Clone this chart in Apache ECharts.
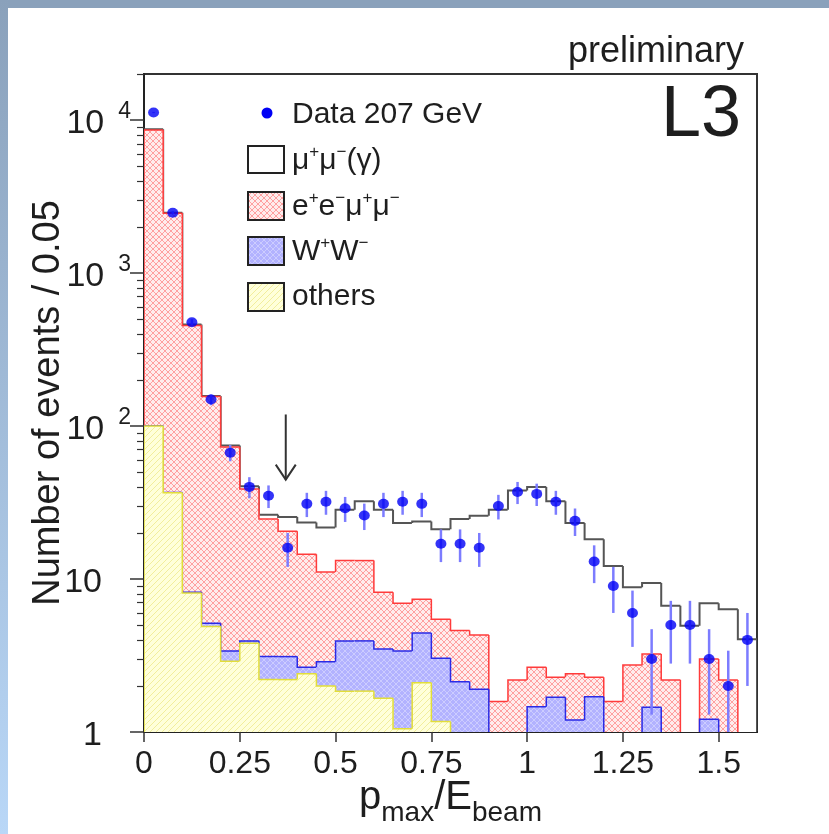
<!DOCTYPE html>
<html><head><meta charset="utf-8">
<script src="https://cdn.jsdelivr.net/npm/echarts@6/dist/echarts.min.js"></script>
<style>html,body{margin:0;padding:0;background:#fff}#c{width:829px;height:834px}</style>
</head><body><div id="c"></div>
<script>
// ---------- data ----------
const binLow = [0,0.05,0.1,0.15,0.2,0.25,0.3,0.35,0.4,0.45,0.5,0.55,0.6,0.65,0.7,0.75,0.8,0.85,0.9,0.95,1,1.05,1.1,1.15,1.2,1.25,1.3,1.35,1.4,1.45,1.5,1.55];
const binWidth = 0.05;
const dataCounts = [11200,2480,477,149,67,40,35,16,31,32,29,26,31,32,31,17,17,16,30,37,36,32,24,13,9,6,3,5,5,3,2,4];
const dataErr = [106,50,22,12.2,8.2,6.3,5.9,4,5.6,5.7,5.4,5.1,5.6,5.7,5.6,4.1,4.1,4,5.5,6.1,6,5.7,4.9,3.6,3,2.4,1.7,2.2,2.2,1.7,1.4,2];
const others = [100,36.6,8.1,4.9,2.9,3.8,2.2,2.2,2.4,2.0,1.85,1.85,1.66,1.05,2.1,1.17,0,0,0,0,0,0,0,0,0,0,0,0,0,0,0,0];
const ww = [0.5,0.2,0.1,0.24,0.49,0.14,0.91,0.91,0.25,0.88,2.09,2.09,1.83,2.34,2.33,1.87,2.13,1.9,0,0,1.46,1.69,1.2,1.7,0,0,1.45,0,0,1.21,0,0];
const eemumu = [8510,2418,446,150.9,69.6,34.8,21.6,17.4,11.85,8.22,9.26,9.26,4.71,3.56,2.95,2.42,2.47,2.41,1.58,2.19,1.19,0.59,1.2,0.58,1.58,2.74,1.79,2.19,0,1.79,2.19,0];
const mumu = [90,25,6,1,1.5,1.6,1.6,4.9,8.9,10.6,15.2,19.0,20.2,16.25,16.4,15.7,20.1,21.6,26.8,35.7,37.35,29.9,20.8,15.9,10.6,6.1,6.16,4.49,4.94,3.95,4.16,4.04];
const xTicks = [0,0.25,0.5,0.75,1,1.25,1.5];
const yMajor = [1,10,100,1000,10000];
const minorMult = [2,3,4,5,6,7,8,9];
const arrowAt = {x:0.37, from:119, to:44.6};
const yMin = 1, yMax = 20000;

// ---------- helpers ----------
const FONT = "'Liberation Sans', Arial, Helvetica, sans-serif";
const TXT = '#1e1e1e';
const yMinor = [];
yMajor.forEach(d => minorMult.forEach(m => { if (m*d <= yMax) yMinor.push(m*d); }));

function cumulate(){
  const out = [];
  const arrs = arguments;
  for (let i = 0; i < binLow.length; i++) {
    let s = 0; for (let k = 0; k < arrs.length; k++) s += arrs[k][i];
    out.push(s);
  }
  return out;
}
const cumY = cumulate(others);
const cumB = cumulate(others, ww);
const cumR = cumulate(others, ww, eemumu);
const cumT = cumulate(others, ww, eemumu, mumu);

function makePattern(bg, fg, kind){
  const c = document.createElement('canvas'); c.width = 6; c.height = 6;
  const g = c.getContext('2d');
  g.fillStyle = bg; g.fillRect(0,0,6,6);
  g.strokeStyle = fg; g.lineWidth = 1;
  g.beginPath();
  if (kind === 'cross') { g.moveTo(0,0); g.lineTo(6,6); g.moveTo(6,0); g.lineTo(0,6); }
  else { g.moveTo(0,6); g.lineTo(6,0); g.moveTo(-1,1); g.lineTo(1,-1); g.moveTo(5,7); g.lineTo(7,5); }
  g.stroke();
  return {image: c, repeat: 'repeat'};
}
const patRed = makePattern('#ffecec', '#ffa0a0', 'cross');
const patBlue = makePattern('#b2b2ff', '#ccccff', 'cross');
const patYel = makePattern('#ffffda', '#f2ee9c', 'diag');

function histSeries(name, cum, fill, stroke, lw){
  const n = cum.length;
  const data = cum.map((v, i) => [binLow[i], binLow[i] + binWidth, v, i > 0 ? cum[i-1] : 0, i === n-1 ? 1 : 0]);
  return {
    type: 'custom', name, silent: true, clip: true, z: 2,
    data, encode: {x: [0,1], y: 2},
    renderItem(params, api){
      const x0 = api.value(0), x1 = api.value(1);
      const v = Math.max(api.value(2), yMin), pv = Math.max(api.value(3), yMin), last = api.value(4);
      const pTL = api.coord([x0, v]), pTR = api.coord([x1, v]);
      const pB = api.coord([x0, yMin]), pBR = api.coord([x1, yMin]);
      const pPrev = api.coord([x0, pv]);
      const children = [];
      if (v > yMin) {
        children.push({type: 'rect', shape: {x: pTL[0] - 0.3, y: pTL[1], width: pTR[0] - pTL[0] + 0.6, height: pB[1] - pTL[1]}, style: {fill: fill, stroke: null}});
        const pts = [pPrev, pTL, pTR];
        if (last) pts.push(pBR);
        children.push({type: 'polyline', shape: {points: pts}, style: {fill: null, stroke: stroke, lineWidth: lw}});
      } else if (pv > yMin) {
        children.push({type: 'polyline', shape: {points: [pPrev, pB]}, style: {fill: null, stroke: stroke, lineWidth: lw}});
      }
      return {type: 'group', children};
    }
  };
}

const centers = binLow.map(b => b + binWidth/2);

const chart = echarts.init(document.getElementById('c'), null, {renderer: 'canvas'});
const option = {
  animation: false,
  backgroundColor: '#ffffff',
  grid: {left: 144, right: 72, top: 74, bottom: 102, outerBoundsMode: 'none', containLabel: false,
    show: true, borderColor: '#333333', borderWidth: 2, backgroundColor: 'transparent'},
  xAxis: {
    type: 'value', min: 0, max: 1.6,
    axisLine: {show: true, onZero: false, lineStyle: {color: '#222', width: 2}},
    axisTick: {show: true, customValues: xTicks, length: 10, lineStyle: {color: '#333', width: 1.5}},
    axisLabel: {customValues: xTicks, fontSize: 32, fontFamily: FONT, color: TXT, margin: 16},
    splitLine: {show: false},
    name: '{b|p}{s|max}{b|/E}{s|beam}', nameLocation: 'middle', nameGap: 44, nameMoveOverlap: false,
    nameTextStyle: {rich: {
      b: {fontSize: 40, fontFamily: FONT, color: TXT, lineHeight: 44},
      s: {fontSize: 28, fontFamily: FONT, color: TXT, lineHeight: 28, padding: [30,0,0,0]}
    }}
  },
  yAxis: [{
    type: 'log', logBase: 10, min: yMin, max: yMax, position: 'left', offset: 0,
    axisLine: {show: true, lineStyle: {color: '#222', width: 2}},
    axisTick: {show: true, customValues: yMajor, length: 14, lineStyle: {color: '#333', width: 1.5}},
    axisLabel: {
      customValues: yMajor, margin: 13,
      formatter: function(v){
        const e = Math.round(Math.log10(v));
        if (e === 0) return '{b|1}{e|}';
        if (e === 1) return '{b|10}{e|}';
        return '{b|10}{s|' + e + '}';
      },
      rich: {
        b: {fontSize: 34, fontFamily: FONT, color: TXT, lineHeight: 40, padding: [8,0,0,0]},
        s: {fontSize: 23, fontFamily: FONT, color: TXT, lineHeight: 24, verticalAlign: 'top', padding: [0,0,0,14]},
        e: {width: 29}
      }
    },
    splitLine: {show: false},
    name: 'Number of events / 0.05', nameLocation: 'middle', nameGap: 76, nameMoveOverlap: false,
    nameTextStyle: {fontSize: 38, fontFamily: FONT, color: TXT}
  }, {
    type: 'log', logBase: 10, min: yMin, max: yMax, position: 'left', offset: 0,
    axisLine: {show: false},
    axisTick: {show: true, customValues: yMinor, length: 7, lineStyle: {color: '#333', width: 1.2}},
    axisLabel: {show: false},
    splitLine: {show: false}
  }],
  series: [
    histSeries('mumu', cumT, '#ffffff', '#555555', 2),
    histSeries('eemumu', cumR, patRed, '#ff3b3b', 1.5),
    histSeries('ww', cumB, patBlue, '#2a2ae6', 1.5),
    histSeries('others', cumY, patYel, '#e2de3a', 1.5),
    {
      type: 'custom', name: 'errors', silent: true, clip: true, z: 3,
      data: centers.map((c, i) => [c, Math.max(dataCounts[i] - dataErr[i], 0.5), dataCounts[i] + dataErr[i]]),
      encode: {x: 0, y: 2},
      renderItem(params, api){
        const lo = api.coord([api.value(0), api.value(1)]);
        const hi = api.coord([api.value(0), api.value(2)]);
        return {type: 'line', shape: {x1: lo[0], y1: lo[1], x2: hi[0], y2: hi[1]}, style: {stroke: '#7c7cff', lineWidth: 2.5}};
      }
    },
    {
      type: 'scatter', name: 'Data 207 GeV', silent: true, z: 4,
      data: centers.map((c, i) => [c, dataCounts[i]]),
      symbol: 'circle', symbolSize: [11, 10],
      itemStyle: {color: '#0000f5'}
    },
    {
      type: 'custom', name: 'arrow', silent: true, z: 3,
      data: [[arrowAt.x, arrowAt.from, arrowAt.to]],
      encode: {x: 0, y: [1,2]},
      renderItem(params, api){
        const a = api.coord([api.value(0), api.value(1)]);
        const b = api.coord([api.value(0), api.value(2)]);
        return {type: 'group', children: [
          {type: 'line', shape: {x1: a[0], y1: a[1], x2: b[0], y2: b[1]}, style: {stroke: '#333', lineWidth: 2}},
          {type: 'polyline', shape: {points: [[b[0]-10, b[1]-15], b, [b[0]+10, b[1]-15]]}, style: {stroke: '#333', lineWidth: 2, fill: null}}
        ]};
      }
    }
  ],
  graphic: {elements: [
    {type: 'rect', z: -10, shape: {x: 0, y: 0, width: 829, height: 8}, style: {fill: '#8aa1bb'}},
    {type: 'rect', z: -10, shape: {x: 0, y: 0, width: 8, height: 834},
      style: {fill: new echarts.graphic.LinearGradient(0, 0, 0, 1, [{offset: 0, color: '#8aa1bb'}, {offset: 1, color: '#b9d7f7'}])}},
    {type: 'text', style: {text: 'preliminary', x: 744, y: 52, align: 'right', verticalAlign: 'middle', font: '36px ' + FONT, fill: TXT}},
    {type: 'text', style: {text: 'L3', x: 741, y: 116, align: 'right', verticalAlign: 'middle', font: '72px ' + FONT, fill: TXT}},
    {type: 'circle', shape: {cx: 267, cy: 113, r: 5.5}, style: {fill: '#0000f5'}},
    {type: 'text', style: {text: 'Data 207 GeV', x: 292, y: 115, verticalAlign: 'middle', font: '30px ' + FONT, fill: TXT}},
    {type: 'rect', shape: {x: 248, y: 146, width: 36, height: 27}, style: {fill: '#ffffff', stroke: '#222', lineWidth: 2}},
    {type: 'rect', shape: {x: 248, y: 192, width: 36, height: 28}, style: {fill: patRed, stroke: '#222', lineWidth: 2}},
    {type: 'rect', shape: {x: 248, y: 237, width: 36, height: 28}, style: {fill: patBlue, stroke: '#222', lineWidth: 2}},
    {type: 'rect', shape: {x: 248, y: 283, width: 36, height: 28}, style: {fill: patYel, stroke: '#222', lineWidth: 2}},
    {type: 'text', style: {x: 292, y: 161, verticalAlign: 'middle',
      text: '{n|μ}{p|+}{n|μ}{p|−}{n|(γ)}',
      rich: {n: {fontSize: 30, fontFamily: FONT, fill: TXT, lineHeight: 34}, p: {fontSize: 17, fontFamily: FONT, fill: TXT, verticalAlign: 'top', lineHeight: 18}}}},
    {type: 'text', style: {x: 292, y: 207, verticalAlign: 'middle',
      text: '{n|e}{p|+}{n|e}{p|−}{n|μ}{p|+}{n|μ}{p|−}',
      rich: {n: {fontSize: 30, fontFamily: FONT, fill: TXT, lineHeight: 34}, p: {fontSize: 17, fontFamily: FONT, fill: TXT, verticalAlign: 'top', lineHeight: 18}}}},
    {type: 'text', style: {x: 292, y: 252, verticalAlign: 'middle',
      text: '{n|W}{p|+}{n|W}{p|−}',
      rich: {n: {fontSize: 30, fontFamily: FONT, fill: TXT, lineHeight: 34}, p: {fontSize: 17, fontFamily: FONT, fill: TXT, verticalAlign: 'top', lineHeight: 18}}}},
    {type: 'text', style: {text: 'others', x: 292, y: 297, verticalAlign: 'middle', font: '30px ' + FONT, fill: TXT}}
  ]}
};
chart.setOption(option);
</script>
</body></html>
